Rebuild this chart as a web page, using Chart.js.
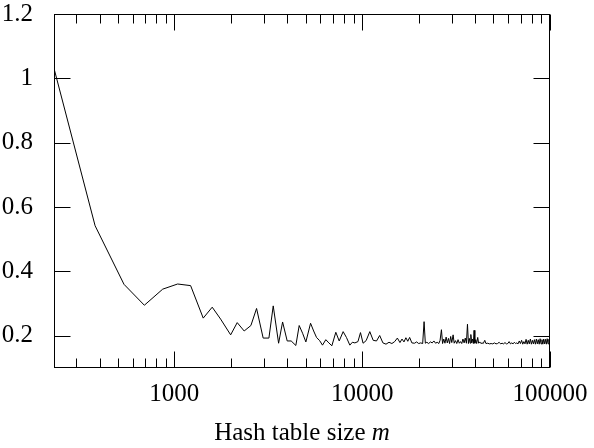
<!DOCTYPE html>
<html>
<head>
<meta charset="utf-8">
<script src="https://cdn.jsdelivr.net/npm/chart.js@4/dist/chart.umd.min.js"></script>
<style>
  body { margin: 0; background: #fff; }
  canvas { display: block; }
</style>
</head>
<body>
<canvas id="chart" width="594" height="448"></canvas>
<script>
const tableSizes = [
  229, 379, 540, 693, 868, 1042, 1222, 1426, 1592, 1765,
  1996, 2163, 2356, 2558, 2742, 2973, 3190, 3363, 3592, 3773,
  3991, 4190, 4437, 4624, 4820, 5018, 5315, 5520, 5718, 5940,
  6152, 6408, 6650, 6900, 7244, 7550, 7924, 8250, 8603, 8870,
  9150, 9500, 9800, 10116, 10500, 10985, 11450, 11930, 12400, 12900,
  13400, 13900, 14400, 14900, 15400, 15900, 16300, 16700, 17100, 17500,
  17900, 18400, 19000, 19500, 20000, 20500, 21000, 21370, 21700, 22100,
  22600, 23100, 23600, 24100, 24600, 25100, 25600, 26000, 26430, 26800,
  27200, 27600, 28000, 28400, 28800, 29200, 29600, 30000, 30500, 30900,
  31400, 31900, 32400, 32900, 33400, 33900, 34400, 34900, 35400, 35900,
  36370, 36800, 37200, 37600, 37900, 38300, 38700, 39100, 39430, 39800,
  40260, 40700, 41230, 41700, 42300, 42900, 43500, 44100, 44960, 45600,
  46600, 47600, 48600, 49600, 50600, 51600, 52600, 53600, 54600, 55600,
  56600, 57600, 58600, 59600, 60600, 61600, 62600, 63600, 64600, 65600,
  66600, 67600, 68600, 69600, 70600, 71600, 72600, 73600, 74600, 75600,
  76600, 77600, 78600, 79600, 80600, 81600, 82600, 83600, 84600, 85600,
  86600, 87600, 88600, 89600, 90600, 91600, 92600, 93600, 94600, 95600,
  96600, 97600, 98600, 99600, 100000
];
const values = [
  1.031, 0.542, 0.360, 0.295, 0.345, 0.361, 0.356, 0.255, 0.289, 0.252,
  0.203, 0.241, 0.215, 0.232, 0.285, 0.193, 0.193, 0.293, 0.177, 0.243,
  0.184, 0.184, 0.170, 0.232, 0.208, 0.181, 0.239, 0.215, 0.195, 0.185,
  0.171, 0.188, 0.178, 0.169, 0.211, 0.184, 0.213, 0.195, 0.171, 0.180,
  0.178, 0.182, 0.210, 0.177, 0.185, 0.213, 0.186, 0.184, 0.201, 0.178,
  0.174, 0.180, 0.176, 0.182, 0.193, 0.179, 0.190, 0.181, 0.194, 0.183,
  0.195, 0.178, 0.177, 0.181, 0.176, 0.178, 0.176, 0.244, 0.177, 0.180,
  0.176, 0.181, 0.178, 0.184, 0.177, 0.180, 0.176, 0.186, 0.219, 0.176,
  0.190, 0.177, 0.196, 0.178, 0.192, 0.176, 0.198, 0.179, 0.203, 0.177,
  0.185, 0.176, 0.188, 0.177, 0.182, 0.176, 0.190, 0.178, 0.193, 0.177,
  0.236, 0.176, 0.192, 0.177, 0.204, 0.178, 0.190, 0.176, 0.217, 0.177,
  0.188, 0.176, 0.195, 0.177, 0.181, 0.176, 0.178, 0.176, 0.186, 0.176,
  0.177, 0.175, 0.176, 0.175, 0.178, 0.175, 0.176, 0.180, 0.175, 0.177,
  0.175, 0.179, 0.175, 0.176, 0.182, 0.175, 0.178, 0.175, 0.180, 0.176,
  0.178, 0.175, 0.184, 0.176, 0.186, 0.174, 0.182, 0.175, 0.189, 0.174,
  0.186, 0.175, 0.190, 0.174, 0.186, 0.175, 0.188, 0.174, 0.190, 0.175,
  0.188, 0.174, 0.191, 0.175, 0.188, 0.174, 0.190, 0.175, 0.189, 0.174,
  0.191, 0.175, 0.189, 0.176, 0.184
];

const xLabelTicks = [1000, 10000, 100000];
const xMinorTicks = [300, 400, 500, 600, 700, 800, 900,
  2000, 3000, 4000, 5000, 6000, 7000, 8000, 9000,
  20000, 30000, 40000, 50000, 60000, 70000, 80000, 90000];
const yLabelTicks = [0.2, 0.4, 0.6, 0.8, 1.0, 1.2];

const serif = "'Liberation Serif', 'Times New Roman', serif";

// frame with inward ticks on all four sides, and the axis title
const frameTicks = {
  id: "frameTicks",
  afterDraw(chart) {
    const ctx = chart.ctx;
    const a = chart.chartArea;
    const xs = chart.scales.x, ys = chart.scales.y;
    const L = Math.round(a.left) + 0.5, R = Math.round(a.right) - 0.5;
    const T = Math.round(a.top) + 0.5, B = Math.round(a.bottom) - 0.5;
    ctx.save();
    ctx.strokeStyle = "#000";
    ctx.lineWidth = 1;
    ctx.strokeRect(L, T, R - L, B - T);
    ctx.beginPath();
    const vTick = (v, len) => {
      const px = Math.round(xs.getPixelForValue(v)) + 0.5;
      ctx.moveTo(px, T); ctx.lineTo(px, T + len);
      ctx.moveTo(px, B); ctx.lineTo(px, B - len);
    };
    xLabelTicks.forEach(v => vTick(v, 16));
    xMinorTicks.forEach(v => vTick(v, 9));
    yLabelTicks.forEach(v => {
      const py = Math.round(ys.getPixelForValue(v)) + 0.5;
      ctx.moveTo(L, py); ctx.lineTo(L + 16, py);
      ctx.moveTo(R, py); ctx.lineTo(R - 16, py);
    });
    ctx.stroke();

    // "Hash table size m" with italic m
    const part1 = "Hash table size ";
    const part2 = "m";
    ctx.fillStyle = "#000";
    ctx.textBaseline = "alphabetic";
    ctx.font = "25px " + serif;
    const w1 = ctx.measureText(part1).width;
    ctx.font = "italic 25px " + serif;
    const w2 = ctx.measureText(part2).width;
    const cx = (a.left + a.right) / 2;
    const x0 = cx - (w1 + w2) / 2;
    ctx.font = "25px " + serif;
    ctx.fillText(part1, x0, 440);
    ctx.font = "italic 25px " + serif;
    ctx.fillText(part2, x0 + w1, 440);
    ctx.restore();
  }
};

const points = tableSizes.map((m, i) => ({ x: m, y: values[i] }));

new Chart(document.getElementById("chart").getContext("2d"), {
  type: "line",
  data: {
    datasets: [{
      data: points,
      borderColor: "#000",
      borderWidth: 1,
      pointRadius: 0,
      tension: 0,
      fill: false
    }]
  },
  options: {
    responsive: false,
    animation: false,
    layout: { padding: { top: 14, right: 44, left: 0, bottom: 0 } },
    plugins: { legend: { display: false }, tooltip: { enabled: false } },
    scales: {
      x: {
        type: "logarithmic",
        min: 229,
        max: 100000,
        grid: { display: false },
        border: { display: false },
        afterBuildTicks: s => { s.ticks = xLabelTicks.map(v => ({ value: v })); },
        afterFit: s => { s.height = 80; s.paddingLeft = 0; s.paddingRight = 0; },
        ticks: {
          color: "#000",
          padding: 6,
          maxRotation: 0,
          autoSkip: false,
          font: { family: serif, size: 25, lineHeight: 1 },
          callback: v => String(v)
        }
      },
      y: {
        min: 0.1,
        max: 1.2,
        grid: { display: false },
        border: { display: false },
        afterBuildTicks: s => { s.ticks = yLabelTicks.map(v => ({ value: v })); },
        afterFit: s => { s.width = 54; s.paddingTop = 0; s.paddingBottom = 0; },
        ticks: {
          color: "#000",
          padding: 13,
          font: { family: serif, size: 25, lineHeight: 1 },
          callback: v => String(+v.toFixed(1))
        }
      }
    }
  },
  plugins: [frameTicks]
});
</script>
</body>
</html>
